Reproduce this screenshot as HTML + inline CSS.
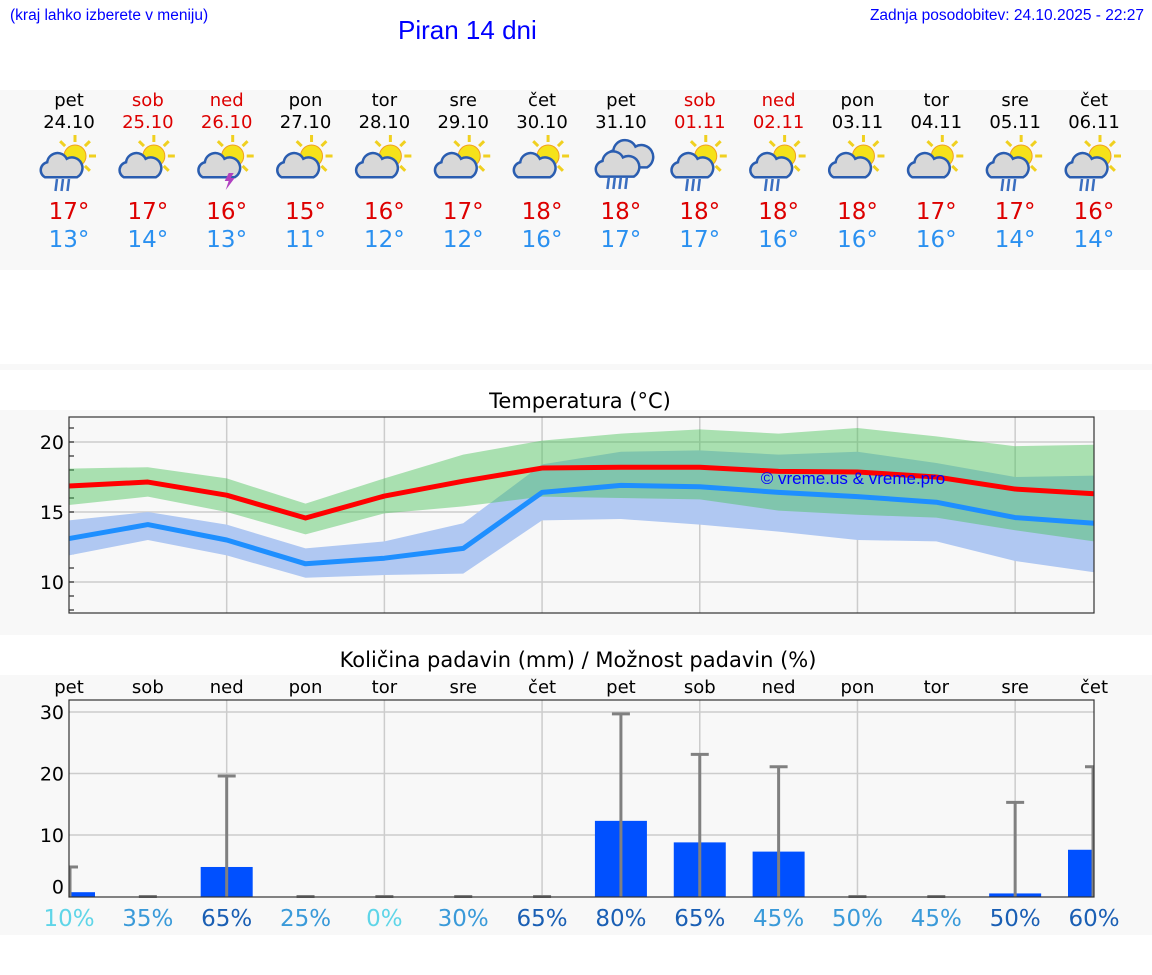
<!DOCTYPE html>
<html><head><meta charset="utf-8">
<style>
body{margin:0;width:1152px;height:975px;background:#fff;font-family:"DejaVu Sans","Liberation Sans",sans-serif;position:relative;overflow:hidden}
.abs{position:absolute}
.band{position:absolute;left:0;width:1152px;background:#f8f8f8}
.day{position:absolute;width:80px;text-align:center;font-size:18px}
</style></head><body>
<div class="abs" style="left:10px;top:7px;font-size:15.5px;color:#00f;font-family:'Liberation Sans',sans-serif">(kraj lahko izberete v meniju)</div>
<div class="abs" style="left:398px;top:15px;font-size:26px;color:#00f;font-family:'Liberation Sans',sans-serif">Piran 14 dni</div>
<div class="abs" style="right:8px;top:7px;font-size:15.5px;color:#00f;font-family:'Liberation Sans',sans-serif">Zadnja posodobitev: 24.10.2025 - 22:27</div>
<div class="band" style="top:90px;height:180px"></div>
<div class="band" style="top:364px;height:6px"></div>
<div class="band" style="top:410px;height:225px"></div>
<div class="band" style="top:675px;height:260px"></div>
<div id="days"></div>
<svg id="chart" class="abs" style="left:0;top:0" width="1152" height="975"></svg>
<script>
const dayNames=["pet","sob","ned","pon","tor","sre","čet","pet","sob","ned","pon","tor","sre","čet"];
const dates=["24.10","25.10","26.10","27.10","28.10","29.10","30.10","31.10","01.11","02.11","03.11","04.11","05.11","06.11"];
const weekend=[0,1,1,0,0,0,0,0,1,1,0,0,0,0];
const hiTemps=[17,17,16,15,16,17,18,18,18,18,18,17,17,16];
const loTemps=[13,14,13,11,12,12,16,17,17,16,16,16,14,14];
const icons=["sunrain","suncloud","storm","suncloud","suncloud","suncloud","suncloud","rain","sunrain","sunrain","suncloud","suncloud","sunrain","sunrain"];
const tMax=[16.86,17.14,16.2,14.57,16.14,17.2,18.14,18.2,18.2,17.9,17.86,17.5,16.64,16.3];
const tMaxHi=[18.1,18.2,17.4,15.6,17.4,19.1,20.1,20.6,20.9,20.6,21.0,20.4,19.7,19.8];
const tMaxLo=[15.5,16.1,15.0,13.4,14.9,15.4,16.1,16.0,15.9,15.1,14.8,14.6,13.7,12.9];
const tMin=[13.1,14.1,13.0,11.3,11.7,12.4,16.4,16.9,16.8,16.4,16.1,15.7,14.6,14.2];
const tMinHi=[14.4,15.0,14.1,12.4,12.9,14.2,18.4,19.3,19.4,19.1,19.3,18.5,17.5,17.6];
const tMinLo=[11.9,13.0,11.9,10.3,10.5,10.6,14.4,14.5,14.1,13.6,13.0,12.9,11.5,10.7];
const tTicks=[10,15,20];
const rain=[0.7,0,4.8,0,0,0,0,12.3,8.8,7.3,0,0,0.5,7.6];
const rainMax=[4.8,0,19.6,0,0,0,0,29.7,23.1,21.1,0,0,15.3,21.1];
const rainProb=[10,35,65,25,0,30,65,80,65,45,50,45,50,60];
const pTicks=[0,10,20,30];
const probColor=["#5fd5e8","#3a9ad9","#1a5fb4","#3a9ad9","#5fd5e8","#3a9ad9","#1a5fb4","#1a5fb4","#1a5fb4","#3a9ad9","#3a9ad9","#3a9ad9","#1a5fb4","#1a5fb4"];

const X0=69,X1=1094,N=dayNames.length;
const xd=i=>X0+i*(X1-X0)/(N-1);
const yt=v=>442-(v-20)*14;
const yp=v=>896.5-v*6.15;
const NS="http://www.w3.org/2000/svg";
const svg=document.getElementById('chart');
function mk(tag,a,parent){const e=document.createElementNS(NS,tag);for(const k in a)e.setAttribute(k,a[k]);(parent||svg).appendChild(e);return e;}

const daysDiv=document.getElementById('days');
function iconSvg(type,cx,cy){
  const g=mk('g',{});
  const sun=(sx,sy,r)=>{for(let k=0;k<8;k++){const a=k*Math.PI/4;mk('line',{x1:sx+Math.cos(a)*(r+3),y1:sy+Math.sin(a)*(r+3),x2:sx+Math.cos(a)*(r+10),y2:sy+Math.sin(a)*(r+10),stroke:'#f0d020','stroke-width':3},g);}mk('circle',{cx:sx,cy:sy,r:r,fill:'#f5e21a',stroke:'#f0a020','stroke-width':1},g);};
  const cloud=(x,y,s)=>{mk('path',{d:`M${x-14*s} ${y+8*s} a${7*s} ${7*s} 0 0 1 ${2*s} ${-13*s} a${9*s} ${9*s} 0 0 1 ${17*s} ${-3*s} a${7*s} ${7*s} 0 0 1 ${9*s} ${16*s} z`,fill:'#d8d8d8',stroke:'#2a5db0','stroke-width':2.5},g);};
  const drops=(x,y,n)=>{for(let k=0;k<n;k++)mk('line',{x1:x+k*6,y1:y,x2:x+k*6-1.5,y2:y+12,stroke:'#3a6ec0','stroke-width':2.5},g);};
  if(type==='rain'){cloud(cx+8,cy-8,1.3);cloud(cx-4,cy+2,1.2);drops(cx-12,cy+12,4);}
  else{sun(cx+6,cy-9,11);cloud(cx-8,cy+3,1.15);
    if(type==='sunrain')drops(cx-12,cy+14,3);
    if(type==='storm')mk('path',{d:`M${cx+2} ${cy+8} l-4 8 h4 l-3 9 l9 -12 h-4 l3 -5 z`,fill:'#b040c0'},g);}
  return g;
}
for(let i=0;i<N;i++){
  const x=xd(i);
  const d=document.createElement('div');d.className='day';d.style.left=(x-40)+'px';d.style.top='90px';
  
  
  const col=weekend[i]?'#d00':'#000';
  d.innerHTML=`<div style="color:${col};line-height:22px">${dayNames[i]}</div><div style="color:${col};line-height:22px">${dates[i]}</div><div style="height:64px"></div><div style="color:#d00;font-size:23px;line-height:28px">${hiTemps[i]}°</div><div style="color:#2a90f0;font-size:23px;line-height:28px">${loTemps[i]}°</div>`;
  daysDiv.appendChild(d);
  const ic=iconSvg(icons[i],x,165);
  
  
}

mk('text',{x:580,y:408,'text-anchor':'middle','font-size':21}).textContent='Temperatura (°C)';
mk('rect',{x:X0,y:417,width:X1-X0,height:196,fill:'#f8f8f8'});
for(let i=2;i<N;i+=2)mk('line',{x1:xd(i),y1:417,x2:xd(i),y2:613,stroke:'#ccc','stroke-width':1.5});
for(const t of tTicks){mk('line',{x1:X0,y1:yt(t),x2:X1,y2:yt(t),stroke:'#ccc','stroke-width':1.5});
  const tl=mk('text',{x:64,y:yt(t)+7,'text-anchor':'end','font-size':19});tl.textContent=t;
  
  }
for(let t=8;t<=21;t++)mk('line',{x1:X0,y1:yt(t),x2:X0+5,y2:yt(t),stroke:'#000','stroke-width':1});
function band(hi,lo,fill,op){let d='';hi.forEach((v,i)=>d+=(i?'L':'M')+xd(i)+' '+yt(v));for(let i=lo.length-1;i>=0;i--)d+='L'+xd(i)+' '+yt(lo[i]);return mk('path',{d:d+'Z',fill:fill,'fill-opacity':op});}
const b2=band(tMinHi,tMinLo,'#b0c8f2',1);
const b1=band(tMaxHi,tMaxLo,'#40c050',0.43);
function line(arr,col){return mk('polyline',{points:arr.map((v,i)=>xd(i)+','+yt(v)).join(' '),fill:'none',stroke:col,'stroke-width':5,'stroke-linejoin':'round'});}
const l1=line(tMax,'#ff0000');
const l2=line(tMin,'#1e8fff');
mk('text',{x:853,y:484,'text-anchor':'middle','font-size':17,fill:'#00f','font-family':'Liberation Sans'}).textContent='© vreme.us & vreme.pro';
mk('rect',{x:X0,y:417,width:X1-X0,height:196,fill:'none',stroke:'#333','stroke-width':1.2});

mk('text',{x:578,y:667,'text-anchor':'middle','font-size':21}).textContent='Količina padavin (mm) / Možnost padavin (%)';
mk('rect',{x:X0,y:700,width:X1-X0,height:197,fill:'#f8f8f8'});
for(let i=0;i<N;i++){const t=mk('text',{x:xd(i),y:693,'text-anchor':'middle','font-size':18});t.textContent=dayNames[i];}
for(let i=2;i<N;i+=2)mk('line',{x1:xd(i),y1:700,x2:xd(i),y2:897,stroke:'#ccc','stroke-width':1.5});
for(const t of pTicks){if(t>0)mk('line',{x1:X0,y1:yp(t),x2:X1,y2:yp(t),stroke:'#ccc','stroke-width':1.5});
  const tl=mk('text',{x:64,y:(t===0?yp(t)-3:yp(t)+7),'text-anchor':'end','font-size':19});tl.textContent=t;
  
  }
for(let i=0;i<N;i++){
  const x=xd(i);let l=x-26,r=x+26;if(l<X0)l=X0;if(r>X1)r=X1;
  if(rain[i]>0){const b=mk('rect',{x:l,y:yp(rain[i]),width:r-l,height:yp(0)-yp(rain[i]),fill:'#0050ff'});
    
    }
  const ex=Math.min(Math.max(x,X0+1),X1-1);
  mk('line',{x1:ex,y1:yp(0),x2:ex,y2:yp(rainMax[i]),stroke:'#808080','stroke-width':3});
  mk('line',{x1:Math.max(x-9,X0),y1:yp(rainMax[i]),x2:Math.min(x+9,X1),y2:yp(rainMax[i]),stroke:'#808080','stroke-width':3});
  const p=mk('text',{x:x,y:926,'text-anchor':'middle','font-size':23,fill:probColor[i]});p.textContent=rainProb[i]+'%';
  
  
}
mk('rect',{x:X0,y:700,width:X1-X0,height:197,fill:'none',stroke:'#333','stroke-width':1.2});
</script>
</body></html>
